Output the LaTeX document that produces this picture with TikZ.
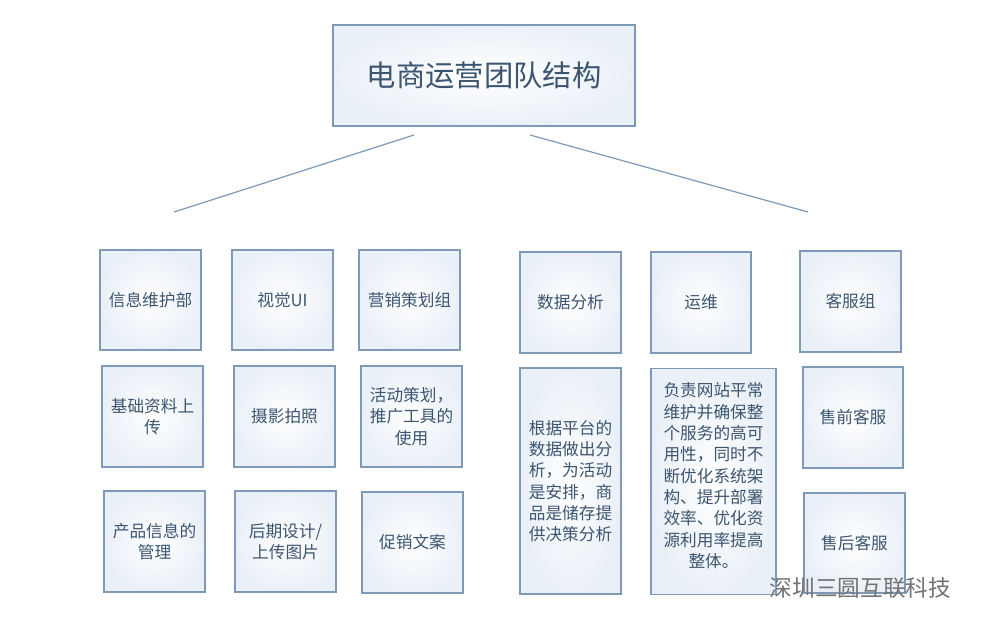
\documentclass[tikz,border=0pt]{standalone}
\usepackage{fontspec}
\setmainfont{Noto Sans CJK SC}
\XeTeXlinebreaklocale "zh"
\definecolor{edge}{HTML}{7F99B8}
\definecolor{ink}{HTML}{3C5570}
\definecolor{haze}{HTML}{EAF0F7}
\tikzset{
	cell/.style={draw=edge,line width=0.8pt,inner color=white,outer color=haze,
		text=ink,font=\fontsize{12.5}{16}\selectfont,align=center,inner sep=0pt},
	link/.style={draw=edge,line width=0.9pt}
}
\begin{document}
\begin{tikzpicture}[x=0.75pt,y=-0.75pt]
		\useasboundingbox[fill=white] (0,0) rectangle (992,632);
		% title
		\node[cell,minimum width=226.5pt,minimum height=75.75pt,font=\fontsize{22}{26}\selectfont] (top) at (484,75.5) {电商运营团队结构};
		\coordinate (la) at (414,135); \coordinate (lb) at (174,212);
		\coordinate (ra) at (530,135); \coordinate (rb) at (808,212);
		\draw[link] (la) -- (lb);
		\draw[link] (ra) -- (rb);
		% left group
		\node[cell,minimum width=75.75pt,minimum height=75pt] (info) at (150.5,300) {信息维护部};
		\node[cell,minimum width=75.75pt,minimum height=75pt] (ui) at (282.5,300) {视觉UI};
		\node[cell,minimum width=75.75pt,minimum height=75pt] (plan) at (409.5,300) {营销策划组};
		\node[cell,minimum width=75.75pt,minimum height=75.75pt] (base) at (152.5,416.5) {基础资料上\\传};
		\node[cell,minimum width=75.75pt,minimum height=75.75pt] (photo) at (284.5,416.5) {摄影拍照};
		\node[cell,minimum width=75.75pt,minimum height=75.75pt] (event) at (411.5,416.5) {活动策划，\\推广工具的\\使用};
		\node[cell,minimum width=75.75pt,minimum height=75.75pt] (prod) at (154.5,541.5) {产品信息的\\管理};
		\node[cell,minimum width=75.75pt,minimum height=75.75pt] (post) at (285.5,541.5) {后期设计/\\上传图片};
		\node[cell,minimum width=75.75pt,minimum height=75.75pt] (copy) at (412.5,542.5) {促销文案};
		% right group
		\node[cell,minimum width=75.75pt,minimum height=75.75pt] (data) at (570.5,302.5) {数据分析};
		\node[cell,minimum width=75pt,minimum height=75.75pt] (ops) at (701,302.5) {运维};
		\node[cell,minimum width=75.75pt,minimum height=75.75pt] (care) at (850.5,301.5) {客服组};
		\node[cell,minimum width=75.75pt,minimum height=169.5pt] (datatxt) at (570.5,481) {根据平台的\\数据做出分\\析，为活动\\是安排，商\\品是储存提\\供决策分析};
		\node[cell,minimum width=93.75pt,minimum height=169.5pt,anchor=north] (opstxt) at (713.5,368) {};
		\node[text=ink,font=\fontsize{12.5}{16}\selectfont,align=center,anchor=north] (opsbody) at (713.5,378) {负责网站平常\\维护并确保整\\个服务的高可\\用性，同时不\\断优化系统架\\构、提升部署\\效率、优化资\\源利用率提高\\整体。};
		\node[cell,minimum width=75pt,minimum height=75.75pt] (pre) at (853,417.5) {售前客服};
		\node[cell,minimum width=75.75pt,minimum height=75pt] (after) at (854.5,543) {售后客服};
		% watermark
		\node[text=gray!90!black,font=\fontsize{17}{20}\selectfont,anchor=west] (mark) at (765,588) {深圳三圆互联科技};
\end{tikzpicture}
\end{document}
